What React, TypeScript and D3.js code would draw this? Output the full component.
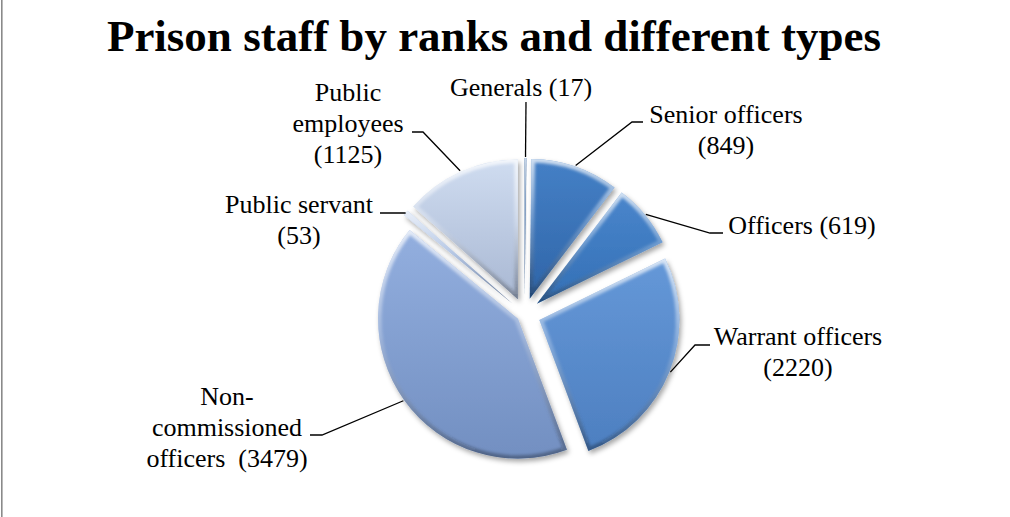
import * as d3 from "d3";

// slices, clockwise from 12 o'clock
const CATEGORIES = [
  "Generals",
  "Senior officers",
  "Officers",
  "Warrant officers",
  "Non-commissioned officers",
  "Public servant",
  "Public employees",
];
const VALUES = [17, 849, 619, 2220, 3479, 53, 1125];

// label text, "{v}" gets the value
const LABEL_LINES = [
  ["Generals ({v})"],
  ["Senior officers", "({v})"],
  ["Officers ({v})"],
  ["Warrant officers", "({v})"],
  ["Non-", "commissioned", "officers  ({v})"],
  ["Public servant", "({v})"],
  ["Public", "employees", "({v})"],
];

const TITLE = "Prison staff by ranks and different types";

const W = 1010;
const H = 517;
const CX = 524.5;
const CY = 314;
const R = 140;
const EXPLODE = [16, 16, 16, 16, 8, 16, 16];

const COLOR_TOP = ["#2c5f9f", "#4580c6", "#4a86cc", "#6598d8", "#93afdf", "#aac1e6", "#cfdcf0"];
const COLOR_BOT = ["#234f88", "#2f65a8", "#336fb5", "#4d7fc0", "#728fc1", "#8ea6cf", "#a9b8d3"];

// text anchor (centre x, first baseline) and leader elbow/end
const LABEL_LAYOUT: { x: number; y: number; elbow: [number, number] | null; end: [number, number] }[] = [
  { x: 521, y: 96, elbow: null, end: [526, 102] },
  { x: 726, y: 123, elbow: [632, 122], end: [643, 122] },
  { x: 802, y: 234, elbow: [710, 233], end: [723, 233] },
  { x: 798, y: 345, elbow: [695, 345], end: [710, 345] },
  { x: 227, y: 405, elbow: [322, 435], end: [310, 435] },
  { x: 299, y: 213, elbow: [405, 213], end: [380, 213] },
  { x: 348, y: 101, elbow: [423, 132], end: [412, 132] },
];
const LINE_H = 31;

export default function App() {
  const pie = d3
    .pie<number>()
    .sort(null)
    .startAngle(0)
    .endAngle(2 * Math.PI)
    .value((d) => d);
  const arcs = pie(VALUES);
  const arc = d3.arc<d3.PieArcDatum<number>>().innerRadius(0).outerRadius(R);
  const line = d3.line();

  const slices = arcs.map((a, i) => {
    const mid = (a.startAngle + a.endAngle) / 2;
    const dx = Math.sin(mid) * EXPLODE[i];
    const dy = -Math.cos(mid) * EXPLODE[i];
    const ox = CX + dx;
    const oy = CY + dy;
    const rimPt: [number, number] = [ox + Math.sin(mid) * (R + 1), oy - Math.cos(mid) * (R + 1)];
    return { a, i, ox, oy, rimPt, d: arc(a) ?? "" };
  });

  return (
    <svg
      width={W}
      height={H}
      viewBox={`0 0 ${W} ${H}`}
      style={{ position: "absolute", left: 0, top: 0, background: "#fff" }}
      fontFamily="'Liberation Serif', 'Times New Roman', serif"
    >
      <defs>
        <filter id="shadow" x="-20%" y="-20%" width="140%" height="140%">
          <feDropShadow dx="2" dy="3" stdDeviation="2.5" floodColor="#000" floodOpacity="0.35" />
        </filter>
        <filter id="soft" x="-10%" y="-10%" width="120%" height="120%">
          <feGaussianBlur stdDeviation="1.4" />
        </filter>
        <linearGradient id="rim" x1="0" y1="0" x2="0" y2="1">
          <stop offset="0%" stopColor="#fff" stopOpacity="0.75" />
          <stop offset="45%" stopColor="#fff" stopOpacity="0.25" />
          <stop offset="100%" stopColor="#000" stopOpacity="0.3" />
        </linearGradient>
        {slices.map((s) => (
          <linearGradient key={"g" + s.i} id={"fill" + s.i} x1="0" y1="0" x2="0" y2="1">
            <stop offset="0%" stopColor={COLOR_TOP[s.i]} />
            <stop offset="100%" stopColor={COLOR_BOT[s.i]} />
          </linearGradient>
        ))}
        {slices.map((s) => (
          <clipPath key={"c" + s.i} id={"clip" + s.i}>
            <path d={s.d} />
          </clipPath>
        ))}
      </defs>

      <line x1={1.8} x2={1.8} y1={0} y2={H} stroke="#8a8a8a" strokeWidth={1.6} />

      <text x={494} y={51} textAnchor="middle" fontSize={45} fontWeight="bold" fill="#000">
        {TITLE}
      </text>

      {slices.map((s) => (
        <g key={CATEGORIES[s.i]} transform={`translate(${s.ox},${s.oy})`}>
          <path d={s.d} fill={`url(#fill${s.i})`} filter="url(#shadow)" />
          <g clipPath={`url(#clip${s.i})`}>
            <path
              d={s.d}
              fill="none"
              stroke="url(#rim)"
              strokeWidth={7}
              strokeLinejoin="round"
              filter="url(#soft)"
            />
          </g>
        </g>
      ))}

      {slices.map((s) => {
        const L = LABEL_LAYOUT[s.i];
        const pts: [number, number][] = L.elbow ? [s.rimPt, L.elbow, L.end] : [s.rimPt, L.end];
        return (
          <path key={"l" + s.i} d={line(pts) ?? ""} fill="none" stroke="#000" strokeWidth={1.3} />
        );
      })}

      {slices.map((s) => {
        const L = LABEL_LAYOUT[s.i];
        return (
          <text
            key={"t" + s.i}
            x={L.x}
            y={L.y}
            textAnchor="middle"
            fontSize={26}
            fill="#000"
            style={{ whiteSpace: "pre" }}
          >
            {LABEL_LINES[s.i].map((t, k) => (
              <tspan key={k} x={L.x} y={L.y + k * LINE_H}>
                {t.replace("{v}", String(VALUES[s.i]))}
              </tspan>
            ))}
          </text>
        );
      })}
    </svg>
  );
}
